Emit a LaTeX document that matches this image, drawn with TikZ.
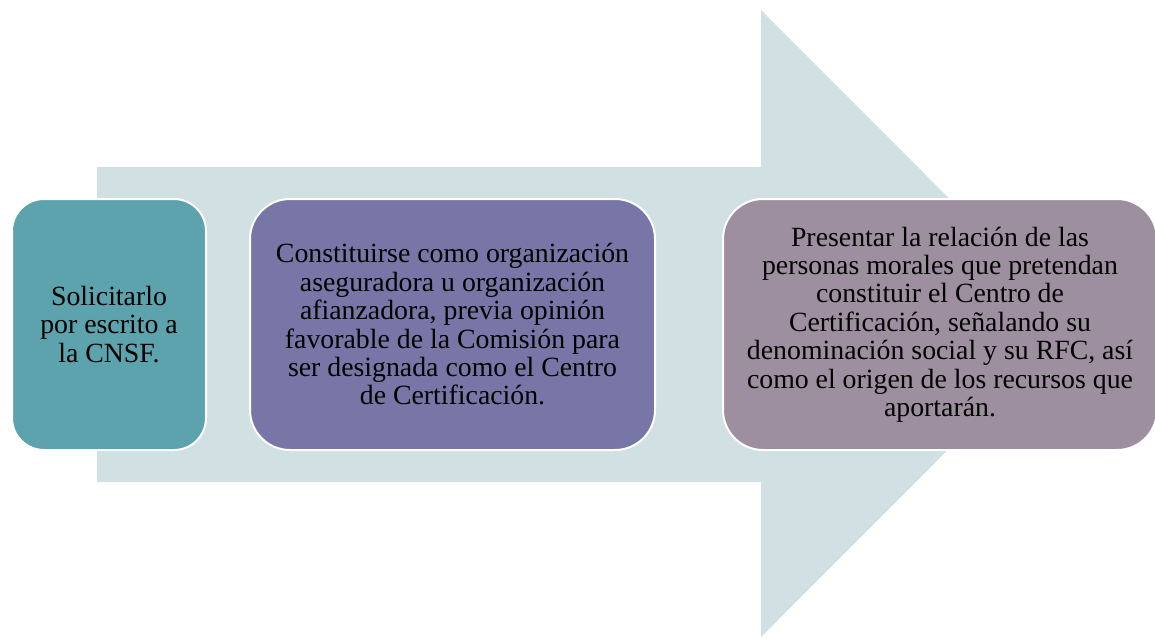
\documentclass[tikz,border=0pt]{standalone}
\usepackage{fontspec}
\setmainfont{Liberation Serif}
\definecolor{arrowc}{HTML}{D1E0E3}
\definecolor{boxa}{HTML}{5CA3AE}
\definecolor{boxb}{HTML}{7776A6}
\definecolor{boxc}{HTML}{9E8FA0}
\tikzset{
  stepbox/.style={draw=white, line width=2pt, align=center, inner sep=0pt,
    font=\fontsize{27.8}{28.4}\selectfont, text=black, minimum height=251pt}
}
\begin{document}
\begin{tikzpicture}[x=1pt,y=-1pt]
\useasboundingbox (0,0) rectangle (1155,638);
% big arrow
\fill[arrowc] (97,167) -- (761,167) -- (761,10) -- (1074,323.5) -- (761,637) -- (761,482) -- (97,482) -- cycle;
% boxes
\node[stepbox, fill=boxa, rounded corners=32pt, minimum width=194pt] (s1) at (109,324.5)
  {Solicitarlo\\por escrito a\\la CNSF.};
\node[stepbox, fill=boxb, rounded corners=40pt, minimum width=405pt] (s2) at (452.5,324.5)
  {Constituirse como organización\\aseguradora u organización\\afianzadora, previa opinión\\favorable de la Comisión para\\ser designada como el Centro\\de Certificación.};
\node[stepbox, fill=boxc, rounded corners=40pt, minimum width=434pt] (s3) at (940,324.5)
  {Presentar la relación de las\\personas morales que pretendan\\constituir el Centro de\\Certificación, señalando su\\denominación social y su RFC, así\\como el origen de los recursos que\\aportarán.};
\end{tikzpicture}
\end{document}
